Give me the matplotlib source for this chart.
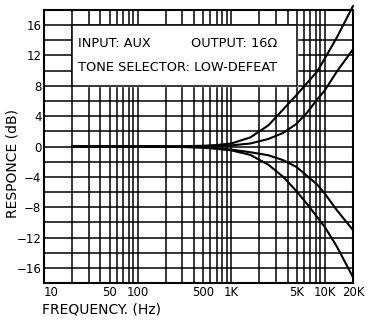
import matplotlib.pyplot as plt
from matplotlib.ticker import FixedLocator, NullFormatter

plt.rcParams['font.family'] = ['DejaVu Sans']

freq = [20, 50, 100, 200, 500, 700, 1000, 1600, 2500, 3600, 5000, 6500, 8300, 10000, 13500, 20000]

boost_max = [0, 0, 0, 0, 0.1, 0.2, 0.4, 1.2, 2.8, 4.9, 6.8, 8.4, 9.9, 11.6, 14.4, 18.5]
boost_mid = [0, 0, 0, 0, 0, 0.05, 0.15, 0.4, 1.0, 1.8, 3.0, 4.5, 6.2, 7.4, 9.9, 12.8]
cut_mid = [0, 0, 0, 0, -0.1, -0.25, -0.4, -0.75, -1.15, -1.8, -2.7, -3.9, -5.0, -6.2, -8.4, -11.0]
cut_max = [0, 0, 0, 0, -0.15, -0.3, -0.5, -1.1, -2.4, -4.0, -5.9, -7.6, -9.3, -10.6, -13.2, -17.2]

xticks = [10, 50, 100, 500, 1000, 5000, 10000, 20000]
xlabels = ['10', '50', '100', '500', '1K', '5K', '10K', '20K']
yticks = [16, 12, 8, 4, 0, -4, -8, -12, -16]

fig = plt.figure(figsize=(3.68, 3.21), dpi=100)
ax = fig.add_axes([0.12, 0.118, 0.839, 0.851])

for vals in (boost_max, boost_mid, cut_mid, cut_max):
    ax.plot(freq, vals, color='black', lw=1.5, zorder=4, clip_on=False)

ax.set_xscale('log')
ax.set_xlim(10, 20000)
ax.set_ylim(-18, 18)

minor = [m * d for d in (10, 100, 1000, 10000) for m in range(2, 10) if m * d < 20000]
ax.xaxis.set_major_locator(FixedLocator(xticks))
ax.xaxis.set_minor_locator(FixedLocator(minor))
ax.xaxis.set_minor_formatter(NullFormatter())
ax.set_xticklabels(xlabels)
ax.get_xticklabels()[0].set_ha('left')
ax.set_yticks(yticks)
ax.set_yticklabels(['16', '12', '8', '4', '0', '\u22124', '\u22128', '\u221212', '\u221216'])
ax.yaxis.set_minor_locator(FixedLocator(range(-18, 19, 2)))

ax.grid(which='both', axis='both', color='black', lw=1.1)
ax.tick_params(which='both', length=0, labelsize=8.5, pad=2)
for s in ax.spines.values():
    s.set_linewidth(1.5)

# legend box with test conditions
ax.fill_between([20, 5000], 8, 16, color='white', zorder=3)
ax.plot([20, 5000, 5000, 20, 20], [8, 8, 16, 16, 8], color='black', lw=1.1, zorder=3)
ax.text(23, 13.6, 'INPUT: AUX', fontsize=9.3, va='center', zorder=5)
ax.text(370, 13.6, 'OUTPUT: 16\u03a9', fontsize=9.3, va='center', zorder=5)
ax.text(23, 10.4, 'TONE SELECTOR: LOW-DEFEAT', fontsize=9.3, va='center', zorder=5)

fig.text(0.035, 0.49, 'RESPONCE (dB)', rotation=90, fontsize=10, ha='center', va='center')
fig.text(0.115, 0.035, 'FREQUENCY. (Hz)', fontsize=10, ha='left', va='center')

fig.savefig('out.png', dpi=100)
